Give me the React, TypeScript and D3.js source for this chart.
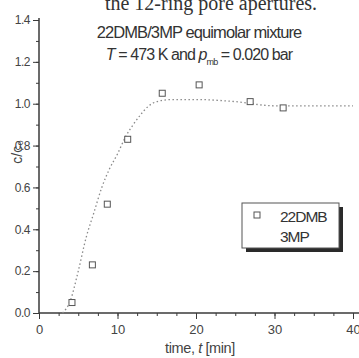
import { useEffect, useRef } from "react";
import * as d3 from "d3";

const WIDTH = 359;
const HEIGHT = 358;
const MARGIN = { top: 20, right: 6, bottom: 45, left: 39 };

const X_TICKS = [0, 10, 20, 30, 40];
const Y_TICKS = [0.0, 0.2, 0.4, 0.6, 0.8, 1.0, 1.2, 1.4];

// 22DMB measured points (open squares)
const DMB_TIME = [4.2, 6.8, 8.7, 11.3, 15.7, 20.4, 26.9, 31.1];
const DMB_VALUE = [0.05, 0.23, 0.52, 0.83, 1.05, 1.09, 1.01, 0.98];

// 3MP curve (dotted line)
const MP_TIME = [3, 4, 5, 6, 7, 8, 9, 10, 11, 12, 13, 14, 15, 17, 20, 25, 30, 35, 40];
const MP_VALUE = [0.0, 0.06, 0.2, 0.36, 0.48, 0.6, 0.69, 0.76, 0.84, 0.9, 0.95, 0.99, 1.01, 1.02, 1.02, 1.01, 0.99, 0.99, 0.99];

const AXIS_COLOR = "#3a3a3a";
const TEXT_COLOR = "#444";
const FONT = "Liberation Sans, Arial, sans-serif";

export default function App() {
  const svgRef = useRef<SVGSVGElement>(null);

  useEffect(() => {
    if (!svgRef.current) return;
    const svg = d3.select(svgRef.current);
    svg.selectAll("*").remove();

    const x = d3
      .scaleLinear()
      .domain([0, 40])
      .range([MARGIN.left, MARGIN.left + 314]);
    const y = d3
      .scaleLinear()
      .domain([0, 1.4])
      .range([HEIGHT - MARGIN.bottom, MARGIN.top]);

    // caption of the page, cut at the top edge as in the scan
    svg
      .append("text")
      .attr("x", 211)
      .attr("y", 10)
      .attr("text-anchor", "middle")
      .attr("font-family", "Liberation Serif, Times New Roman, serif")
      .attr("font-size", 20)
      .attr("fill", "#333")
      .text("the 12-ring pore apertures.");

    // x axis
    const xAxis = svg
      .append("g")
      .attr("transform", `translate(0,${y(0)})`);
    xAxis
      .call(d3.axisBottom(x).tickValues(d3.range(0, 40.1, 2.5)).tickSize(3).tickFormat(() => ""))
      .call((g) => g.select(".domain").remove());
    xAxis
      .append("g")
      .call(d3.axisBottom(x).tickValues(X_TICKS).tickSize(6).tickFormat(d3.format("d")))
      .call((g) => g.select(".domain").remove())
      .call((g) =>
        g
          .selectAll(".tick text")
          .attr("font-family", FONT)
          .attr("font-size", 13)
          .attr("fill", TEXT_COLOR)
          .attr("dy", "0.9em")
      );
    xAxis
      .append("line")
      .attr("x1", x(0))
      .attr("x2", WIDTH)
      .attr("stroke", AXIS_COLOR)
      .attr("stroke-width", 1.5);
    xAxis.selectAll(".tick line").attr("stroke", AXIS_COLOR);

    // y axis
    const yAxis = svg
      .append("g")
      .attr("transform", `translate(${x(0)},0)`);
    yAxis
      .call(d3.axisLeft(y).tickValues(d3.range(0, 1.41, 0.1)).tickSize(3).tickFormat(() => ""))
      .call((g) => g.select(".domain").remove());
    yAxis
      .append("g")
      .call(d3.axisLeft(y).tickValues(Y_TICKS).tickSize(6).tickFormat(d3.format(".1f")))
      .call((g) => g.select(".domain").remove())
      .call((g) =>
        g
          .selectAll(".tick text")
          .attr("font-family", FONT)
          .attr("font-size", 12)
          .attr("fill", TEXT_COLOR)
          .attr("letter-spacing", -0.5)
      );
    yAxis
      .append("line")
      .attr("y1", y(0))
      .attr("y2", y(1.4) - 2)
      .attr("stroke", AXIS_COLOR)
      .attr("stroke-width", 1.5);
    yAxis.selectAll(".tick line").attr("stroke", AXIS_COLOR);

    // axis labels
    svg
      .append("text")
      .attr("transform", `translate(${22},${y(0.77)}) rotate(-90)`)
      .attr("text-anchor", "middle")
      .attr("font-family", FONT)
      .attr("font-size", 14)
      .attr("fill", TEXT_COLOR)
      .text("c/c₀");
    const xl = svg
      .append("text")
      .attr("x", 200)
      .attr("y", HEIGHT - 5)
      .attr("text-anchor", "middle")
      .attr("font-family", FONT)
      .attr("font-size", 14.5)
      .attr("fill", TEXT_COLOR)
      .attr("letter-spacing", -0.4);
    xl.append("tspan").text("time, ");
    xl.append("tspan").attr("font-style", "italic").text("t");
    xl.append("tspan").text(" [min]");

    // title
    svg
      .append("text")
      .attr("x", 199)
      .attr("y", 38)
      .attr("text-anchor", "middle")
      .attr("font-family", FONT)
      .attr("font-size", 16.5)
      .attr("fill", "#333")
      .attr("letter-spacing", -0.9)
      .text("22DMB/3MP equimolar mixture");
    const t2 = svg
      .append("text")
      .attr("x", 199)
      .attr("y", 60)
      .attr("text-anchor", "middle")
      .attr("font-family", FONT)
      .attr("font-size", 16)
      .attr("fill", "#333")
      .attr("letter-spacing", -0.9);
    t2.append("tspan").attr("font-style", "italic").text("T");
    t2.append("tspan").text(" = 473 K and ");
    t2.append("tspan").attr("font-style", "italic").text("p");
    t2.append("tspan").attr("font-size", 9).attr("dy", 5).text("mb");
    t2.append("tspan").attr("dy", -5).text(" = 0.020 bar");

    // 3MP dotted curve
    const mp = MP_TIME.map((t, i) => [t, MP_VALUE[i]] as [number, number]);
    svg
      .append("path")
      .datum(mp)
      .attr("fill", "none")
      .attr("stroke", "#8a8a8a")
      .attr("stroke-width", 1.3)
      .attr("stroke-dasharray", "1.5,2.5")
      .attr(
        "d",
        d3
          .line<[number, number]>()
          .x((d) => x(d[0]))
          .y((d) => y(d[1]))
          .curve(d3.curveMonotoneX)
      );

    // 22DMB squares
    const sq = 6;
    svg
      .append("g")
      .selectAll("rect")
      .data(DMB_TIME.map((t, i) => [t, DMB_VALUE[i]]))
      .enter()
      .append("rect")
      .attr("x", (d) => x(d[0]) - sq / 2)
      .attr("y", (d) => y(d[1]) - sq / 2)
      .attr("width", sq)
      .attr("height", sq)
      .attr("fill", "white")
      .attr("stroke", "#555")
      .attr("stroke-width", 1);

    // legend
    const lg = svg.append("g").attr("transform", "translate(242,203)");
    lg.append("rect")
      .attr("x", 4)
      .attr("y", 4)
      .attr("width", 97)
      .attr("height", 45)
      .attr("fill", "#2a2a2a");
    lg.append("rect")
      .attr("width", 97)
      .attr("height", 45)
      .attr("fill", "white")
      .attr("stroke", "#555")
      .attr("stroke-width", 1);
    lg.append("rect")
      .attr("x", 12)
      .attr("y", 9)
      .attr("width", 6)
      .attr("height", 6)
      .attr("fill", "white")
      .attr("stroke", "#555");
    lg.append("text")
      .attr("x", 38)
      .attr("y", 19)
      .attr("font-family", FONT)
      .attr("font-size", 15.5)
      .attr("fill", "#333")
      .attr("letter-spacing", -1)
      .text("22DMB");
    lg.append("text")
      .attr("x", 38)
      .attr("y", 39)
      .attr("font-family", FONT)
      .attr("font-size", 15.5)
      .attr("fill", "#333")
      .attr("letter-spacing", -1)
      .text("3MP");
  }, []);

  return (
    <svg
      ref={svgRef}
      width={WIDTH}
      height={HEIGHT}
      style={{ position: "absolute", left: 0, top: 0, background: "white" }}
    />
  );
}
